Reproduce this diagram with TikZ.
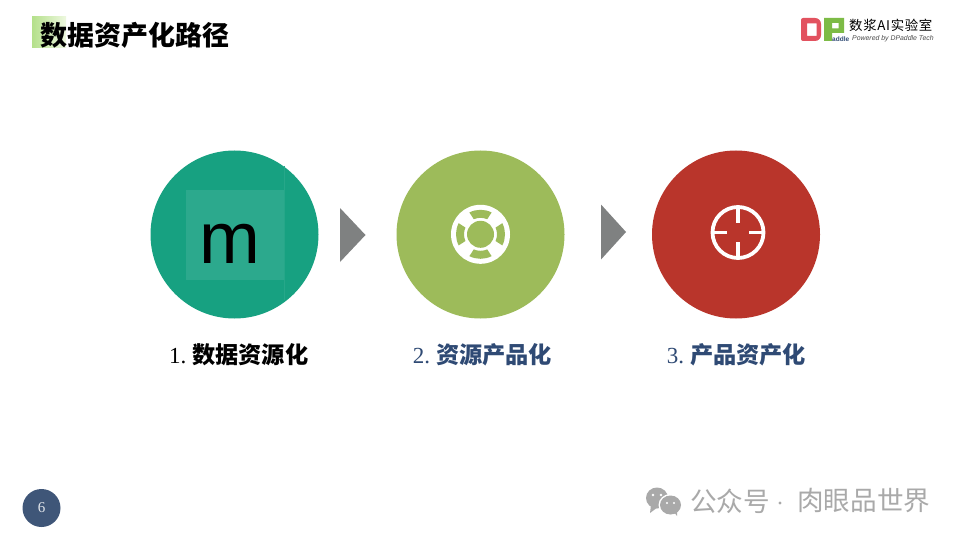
\documentclass[tikz,border=0pt]{standalone}
\usepackage{fontspec}
\setmainfont{Liberation Sans}
\newfontfamily\cjk{Noto Sans CJK SC}
\newfontfamily\numf{Liberation Serif}
\definecolor{tealc}{HTML}{17A181}
\definecolor{teall}{HTML}{2CA98D}
\definecolor{greenc}{HTML}{9DBB5A}
\definecolor{redc}{HTML}{B9352B}
\definecolor{navyt}{HTML}{2F4A74}
\definecolor{pagec}{HTML}{3F5678}
\definecolor{arrowc}{HTML}{7F8181}
\definecolor{wmark}{HTML}{A9A9A9}
\definecolor{logor}{HTML}{E2525F}
\definecolor{logog}{HTML}{7DBB46}
\definecolor{hla}{HTML}{B4E08A}
\definecolor{hlb}{HTML}{EEF8E0}
\tikzset{
  x=1pt,y=-1pt,
  bigdisc/.style={circle,minimum size=168pt,inner sep=0pt,draw=none},
  steplabel/.style={anchor=center,inner sep=0pt,font=\cjk\bfseries\fontsize{23.2}{25}\selectfont},
  chevron/.style={fill=arrowc,draw=none},
  wbubble/.style={fill=wmark,draw=none},
  wmtext/.style={anchor=west,inner sep=0pt,text=wmark,font=\cjk\fontsize{26.6}{28}\selectfont},
}
\newcommand{\numpart}[1]{{\numf\mdseries\fontsize{23}{25}\selectfont\makebox[11.6pt][c]{#1}\makebox[11.6pt][l]{.}}}
\begin{document}
\begin{tikzpicture}
\useasboundingbox (0,0) rectangle (960,540);
\fill[white] (0,0) rectangle (960,540);
% title
\shade[left color=hla,right color=hlb,draw=none] (32,17) rectangle (66,48);
\node[anchor=west,inner sep=0pt,font=\cjk\bfseries\fontsize{27}{29}\selectfont] (title) at (40,35) {数据资产化路径};
% logo
\fill[logor,even odd rule] (803,18) -- (815,18) to[out=0,in=90] (821,24) -- (821,35) to[out=-90,in=0] (815,41) -- (803,41) to[out=180,in=-90] (801,39) -- (801,20) to[out=90,in=180] (803,18) -- cycle (807,23.5) rectangle (816.5,36);
\fill[logog,even odd rule] (824,18) -- (844,18) -- (844,33) -- (832,33) -- (832,41) -- (824,41) -- cycle (832,23) rectangle (838.5,28.5);
\node[anchor=west,inner sep=0pt,text=navyt,font=\bfseries\fontsize{6.5}{7}\selectfont] (logoaddle) at (832,38.8) {addle};
\node[anchor=west,inner sep=0pt,font=\cjk\fontsize{13.4}{14}\selectfont\addfontfeature{LetterSpace=5}] (logotext) at (849,25.5) {数浆AI实验室};
\node[anchor=west,inner sep=0pt,text=black!70,font=\itshape\fontsize{6.9}{7}\selectfont] (logosub) at (852,38.5) {Powered by DPaddle Tech};
% circle 1
\node[bigdisc,fill=tealc] (c1) at (234.5,234.5) {};
\fill[teall] (186,190) rectangle (284,280);
\draw[teall!70!tealc,line width=.8pt] (284,166) -- (284,300);
\node[inner sep=0pt,font=\fontsize{73}{73}\selectfont] (m) at (230,244) {m};
% chevron 1
\fill[chevron] (340,208) -- (365.5,235) -- (340,262) -- cycle;
% circle 2
\node[bigdisc,fill=greenc] (c2) at (480.5,234.5) {};
\fill[white] (480.5,234.3) circle[radius=29.5];
\fill[greenc] (480.5,234.3) circle[radius=13.5];
\foreach \a in {0,90,180,270}{
  \fill[greenc] ([shift={(\a-24:16.5)}]480.5,234.3) arc[start angle=\a-24,end angle=\a+24,radius=16.5]
     -- ([shift={(\a+27:24.5)}]480.5,234.3) arc[start angle=\a+27,end angle=\a-27,radius=24.5] -- cycle;
}
% chevron 2
\fill[chevron] (601,204.5) -- (626,232) -- (601,259.5) -- cycle;
% circle 3
\node[bigdisc,fill=redc] (c3) at (736,234.5) {};
\draw[white,line width=3.8pt] (738,232.5) circle[radius=25.5];
\draw[white,line width=3.6pt] (738,207) -- (738,223) (738,242) -- (738,258) (712.5,232.5) -- (727,232.5) (749,232.5) -- (763.5,232.5);
% labels
\node[steplabel] (l1) at (238.6,355) {\numpart{1}数据资源化};
\node[steplabel,text=navyt] (l2) at (482.4,355) {\numpart{2}资源产品化};
\node[steplabel,text=navyt] (l3) at (736.4,355) {\numpart{3}产品资产化};
% page number
\node[circle,minimum size=38pt,inner sep=0pt,fill=pagec,text=white!85!pagec,font=\numf\fontsize{15}{16}\selectfont] (page) at (41.5,508) {6};
% watermark
\fill[wbubble] (657,498) ellipse[x radius=11,y radius=10.5];
\fill[wbubble] (651,505) -- (650,513) -- (658,507) -- cycle;
\fill[white] (670.5,505) ellipse[x radius=12,y radius=11];
\fill[wbubble] (670.5,505) ellipse[x radius=10.5,y radius=9.5];
\fill[wbubble] (674,512) -- (677,516) -- (677,509) -- cycle;
\fill[white] (653,495) circle[radius=1.4] (661,495) circle[radius=1.4] (667,503) circle[radius=1.2] (674,503) circle[radius=1.2];
\node[wmtext] (wma) at (690,501) {公众号};
\fill[wmark] (780,503) circle[radius=1.7];
\node[wmtext] (wmb) at (797,501) {肉眼品世界};
\end{tikzpicture}
\end{document}
